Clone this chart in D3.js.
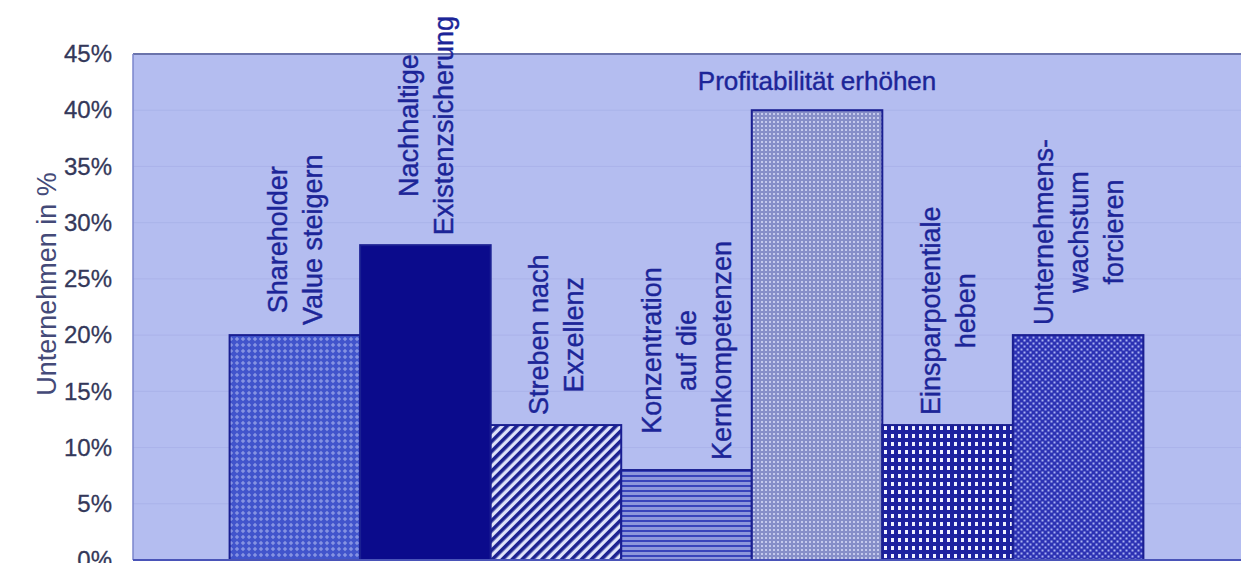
<!DOCTYPE html>
<html>
<head>
<meta charset="utf-8">
<script src="https://cdn.jsdelivr.net/npm/d3@7/dist/d3.min.js"></script>
<style>
  html, body { margin: 0; padding: 0; background: #ffffff; }
  svg { display: block; font-family: "Liberation Sans", Arial, sans-serif; }
</style>
</head>
<body>
<svg id="chart" width="1241" height="563"></svg>
<script>
// Ziele der Unternehmen – Anteil der Nennungen
const categories = [
  "Shareholder Value steigern",
  "Nachhaltige Existenzsicherung",
  "Streben nach Exzellenz",
  "Konzentration auf die Kernkompetenzen",
  "Profitabilität erhöhen",
  "Einsparpotentiale heben",
  "Unternehmenswachstum forcieren"
];
const values = [20, 28, 12, 8, 40, 12, 20];
const labelLines = [
  ["Shareholder", "Value steigern"],
  ["Nachhaltige", "Existenzsicherung"],
  ["Streben nach", "Exzellenz"],
  ["Konzentration", "auf die", "Kernkompetenzen"],
  ["Profitabilität erhöhen"],
  ["Einsparpotentiale", "heben"],
  ["Unternehmens-", "wachstum", "forcieren"]
];
const yTicks = [0, 5, 10, 15, 20, 25, 30, 35, 40, 45];
const yTitle = "Unternehmen in %";

const svg = d3.select("#chart");
const plot = { left: 133, right: 1240, top: 54, bottom: 560 };

const x = d3.scaleBand().domain(categories)
  .range([plot.left, plot.right]).paddingInner(0).paddingOuter(0.74);
const y = d3.scaleLinear().domain([0, 45]).range([plot.bottom, plot.top]);

// ---- fill patterns ----
const defs = svg.append("defs");

// 1: diagonal lattice of light diamonds on medium blue
let p = defs.append("pattern").attr("id", "p1").attr("patternUnits", "userSpaceOnUse")
  .attr("width", 6).attr("height", 6);
p.append("rect").attr("width", 6).attr("height", 6).attr("fill", "#4154cc");
p.append("path").attr("d", "M3,0.8 L5.2,3 L3,5.2 L0.8,3 Z").attr("fill", "#8593e2");

// 3: forward diagonal stripes
p = defs.append("pattern").attr("id", "p3").attr("patternUnits", "userSpaceOnUse")
  .attr("width", 7).attr("height", 7).attr("patternTransform", "rotate(45)");
p.append("rect").attr("width", 7).attr("height", 7).attr("fill", "#dfe3fa");
p.append("rect").attr("width", 3.6).attr("height", 7).attr("fill", "#1c2290");

// 4: horizontal lines
p = defs.append("pattern").attr("id", "p4").attr("patternUnits", "userSpaceOnUse")
  .attr("width", 8).attr("height", 5);
p.append("rect").attr("width", 8).attr("height", 5).attr("fill", "#8d97dc");
p.append("rect").attr("y", 0).attr("width", 8).attr("height", 2).attr("fill", "#3843bb");

// 5: fine light dots on grey-blue
p = defs.append("pattern").attr("id", "p5").attr("patternUnits", "userSpaceOnUse")
  .attr("width", 4).attr("height", 4);
p.append("rect").attr("width", 4).attr("height", 4).attr("fill", "#868ec8");
p.append("rect").attr("x", 1).attr("y", 1).attr("width", 2).attr("height", 2).attr("fill", "#c4c9ec");

// 6: coarse grid, light squares on navy
p = defs.append("pattern").attr("id", "p6").attr("patternUnits", "userSpaceOnUse")
  .attr("width", 7).attr("height", 8);
p.append("rect").attr("width", 7).attr("height", 8).attr("fill", "#1d22a0");
p.append("rect").attr("x", 2).attr("y", 2).attr("width", 3).attr("height", 4).attr("fill", "#eef0ff");

// 7: fine checker, light dots on blue
p = defs.append("pattern").attr("id", "p7").attr("patternUnits", "userSpaceOnUse")
  .attr("width", 6).attr("height", 6);
p.append("rect").attr("width", 6).attr("height", 6).attr("fill", "#2c32b4");
p.append("rect").attr("x", 0.5).attr("y", 0.5).attr("width", 2).attr("height", 2).attr("fill", "#a9b2f2");
p.append("rect").attr("x", 3.5).attr("y", 3.5).attr("width", 2).attr("height", 2).attr("fill", "#a9b2f2");

const fills = ["url(#p1)", "#0b0b8c", "url(#p3)", "url(#p4)", "url(#p5)", "url(#p6)", "url(#p7)"];

// ---- plot background ----
svg.append("rect")
  .attr("x", plot.left).attr("y", plot.top)
  .attr("width", plot.right - plot.left + 2).attr("height", plot.bottom - plot.top)
  .attr("fill", "#b4bdf0");

// faint horizontal gridlines
svg.append("g").selectAll("line").data(yTicks.filter(d => d > 0 && d < 45)).join("line")
  .attr("x1", plot.left).attr("x2", plot.right + 2)
  .attr("y1", d => y(d)).attr("y2", d => y(d))
  .attr("stroke", "#aab3e9").attr("stroke-width", 1);

// frame: top and left edges
svg.append("line").attr("x1", plot.left).attr("x2", plot.right + 2)
  .attr("y1", plot.top).attr("y2", plot.top)
  .attr("stroke", "#6a73ab").attr("stroke-width", 2);
svg.append("line").attr("x1", plot.left).attr("x2", plot.left)
  .attr("y1", plot.top).attr("y2", plot.bottom)
  .attr("stroke", "#7b86cc").attr("stroke-width", 1.5);

// ---- bars ----
svg.append("g").selectAll("rect").data(categories).join("rect")
  .attr("x", d => x(d))
  .attr("y", (d, i) => y(values[i]))
  .attr("width", x.bandwidth())
  .attr("height", (d, i) => y(0) - y(values[i]))
  .attr("fill", (d, i) => fills[i])
  .attr("stroke", "#1a1f92").attr("stroke-width", 2);

// baseline
svg.append("line").attr("x1", plot.left).attr("x2", plot.right + 2)
  .attr("y1", y(0)).attr("y2", y(0))
  .attr("stroke", "#4a54b8").attr("stroke-width", 2);

// ---- y axis ----
const yAxis = d3.axisLeft(y).tickValues(yTicks).tickSize(0).tickPadding(21)
  .tickFormat(d => d + "%");
const gy = svg.append("g").attr("transform", `translate(${plot.left},0)`).call(yAxis);
gy.select(".domain").remove();
gy.selectAll("text").attr("font-size", 24).attr("fill", "#34385a")
  .attr("stroke", "#34385a").attr("stroke-width", 0.3)
  .attr("font-family", "'Liberation Sans', Arial, sans-serif");

svg.append("text")
  .attr("transform", "translate(56,284) rotate(-90)")
  .attr("text-anchor", "middle")
  .attr("font-size", 27).attr("fill", "#444a78")
  .text(yTitle);

// ---- category labels above bars ----
const labelColor = "#1c2598";
const lineGap = 35;
const barGap = 10;
categories.forEach((c, i) => {
  const cx = x(c) + x.bandwidth() / 2;
  const top = y(values[i]);
  const lines = labelLines[i];
  if (lines.length === 1) {
    svg.append("text")
      .attr("x", cx).attr("y", top - 20)
      .attr("text-anchor", "middle")
      .attr("font-size", 26).attr("fill", labelColor)
      .attr("stroke", labelColor).attr("stroke-width", 0.4)
      .text(lines[0]);
    return;
  }
  const g = svg.append("g");
  const texts = lines.map((t, k) => g.append("text")
    .attr("text-anchor", "middle")
    .attr("font-size", 27).attr("fill", labelColor)
    .attr("stroke", labelColor).attr("stroke-width", 0.4)
    .attr("x", 0)
    .attr("y", (k - (lines.length - 1) / 2) * lineGap)
    .attr("dy", "0.36em")
    .text(t));
  const maxLen = d3.max(texts, t => t.node().getComputedTextLength());
  const cy = top - barGap - maxLen / 2;
  g.attr("transform", `translate(${cx},${cy}) rotate(-90)`);
});
</script>
</body>
</html>
